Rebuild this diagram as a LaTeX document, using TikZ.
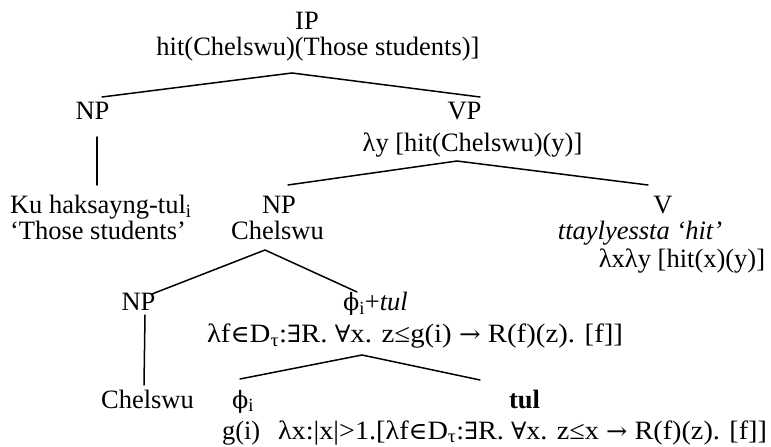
\documentclass[tikz,border=0pt]{standalone}
\usepackage{fontspec}
\setmainfont{Liberation Serif}
\newfontfamily\symf{DejaVu Serif}[Scale=0.9]
\newcommand{\fa}{{\symf ∀}}
\newcommand{\ex}{{\symf ∃}}
\newcommand{\el}{{\symf ∈}}
\newcommand{\ar}{{\symf →}}
\newcommand{\ph}{{\symf ϕ}}
\begin{document}
\begin{tikzpicture}[x=1bp,y=-1bp,
  lab/.style={inner sep=0pt,outer sep=0pt,font=\fontsize{26.5bp}{26.5bp}\selectfont},
  edge/.style={line width=1.5bp,line cap=round}]
\useasboundingbox (0,0) rectangle (771,447);
% text nodes
\node[lab,anchor=base] (ip) at (307,30) {IP};
\node[lab,anchor=base] (ipsem) at (318,56) {hit(Chelswu)(Those students)]};
\node[lab,anchor=base] (np1) at (92.5,120) {NP};
\node[lab,anchor=base] (vp) at (464.5,120) {VP};
\node[lab,anchor=base] (vpsem) at (472.5,152) {λy [hit(Chelswu)(y)]};
\node[lab,anchor=base west] (ku) at (10,214) {Ku haksayng-tul\textsubscript{i}};
\node[lab,anchor=base west] (those) at (10,240) {‘Those students’};
\node[lab,anchor=base] (np2) at (279,214) {NP};
\node[lab,anchor=base] (chel1) at (277.5,240) {Chelswu};
\node[lab,anchor=base] (v) at (663,214) {V};
\node[lab,anchor=base] (tta) at (640,240) {\itshape ttaylyessta ‘hit’};
\node[lab,anchor=base] (vsem) at (682,268) {λxλy [hit(x)(y)]};
\node[lab,anchor=base] (np3) at (138.5,311) {NP};
\node[lab,anchor=base west] (phitul) at (343,311) {\ph\textsubscript{i}+\textit{tul}};
\node[lab,anchor=base west] (phitulsem) at (207,343) {\resizebox{416bp}{\height}{λf\el D\textsubscript{τ}:\ex R. \fa x. z≤g(i) \ar\ R(f)(z). [f]]}};
\node[lab,anchor=base] (chel2) at (147.5,408) {Chelswu};
\node[lab,anchor=base west] (phi) at (232,408) {\ph\textsubscript{i}};
\node[lab,anchor=base] (tul) at (524.5,408) {\bfseries tul};
\node[lab,anchor=base west] (gi) at (222,439) {g(i)};
\node[lab,anchor=base west] (tulsem) at (278,439) {\resizebox{489bp}{\height}{λx:|x|>1.[λf\el D\textsubscript{τ}:\ex R. \fa x. z≤x \ar\ R(f)(z). [f]]}};
% branch points
\coordinate (ipA) at (292,73);
\coordinate (ipL) at (102,97);
\coordinate (ipR) at (480,97);
\coordinate (np1T) at (97,137);
\coordinate (np1B) at (97,185);
\coordinate (vpA) at (457,161);
\coordinate (vpL) at (288,185);
\coordinate (vpR) at (648,185);
\coordinate (np2A) at (265,250);
\coordinate (np2L) at (152,294);
\coordinate (np2R) at (357,292);
\coordinate (np3T) at (145,315);
\coordinate (np3B) at (144,385);
\coordinate (ptA) at (362,355);
\coordinate (ptL) at (240,379);
\coordinate (ptR) at (480,380);
% connectors
\draw[edge] (ipL) -- (ipA) -- (ipR);
\draw[edge] (np1T) -- (np1B);
\draw[edge] (vpL) -- (vpA) -- (vpR);
\draw[edge] (np2L) -- (np2A) -- (np2R);
\draw[edge] (np3T) -- (np3B);
\draw[edge] (ptL) -- (ptA) -- (ptR);
\end{tikzpicture}
\end{document}
